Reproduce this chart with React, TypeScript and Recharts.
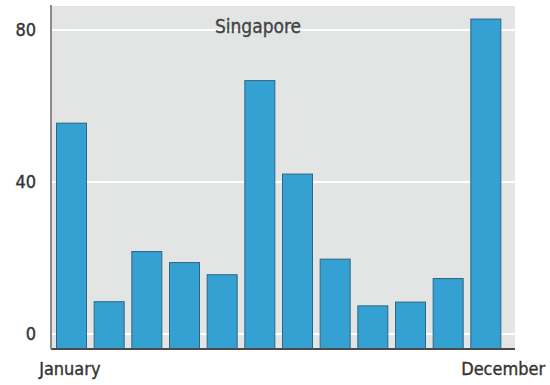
import React from "react";
import { Bar, BarChart, CartesianGrid, XAxis, YAxis } from "recharts";

const months = [
  "January", "February", "March", "April", "May", "June",
  "July", "August", "September", "October", "November", "December",
];
const rainfall = [55.5, 8.5, 21.7, 18.8, 15.6, 66.7, 42.1, 19.7, 7.4, 8.4, 14.6, 82.9];
const yTicks = [0, 40, 80];
const title = "Singapore";

const FONT = "'DejaVu Sans Condensed', 'Liberation Sans Narrow', sans-serif";

const data = months.map((m, i) => ({ month: m, value: rainfall[i] }));

// bars run down to the bottom of the plot, below the zero line
const BarShape = (props: any) => {
  const { x, y, width, height, background } = props;
  const bottom = background ? background.y + background.height : y + height;
  return (
    <rect
      x={x + 0.5}
      y={y}
      width={width - 1}
      height={bottom - y}
      fill="#35a0d2"
      stroke="#2d6684"
      strokeWidth={1}
    />
  );
};

const MonthTick = (props: any) => {
  const { x, y, payload, index } = props;
  if (index !== 0 && index !== months.length - 1) return <g />;
  const dx = index === 0 ? -2 : 17;
  return (
    <text
      x={x + dx}
      y={y}
      dy="0.71em"
      textAnchor="middle"
      fill="#333"
      stroke="#333"
      strokeWidth={0.35}
      fontSize={18}
      fontFamily={FONT}
    >
      {payload.value}
    </text>
  );
};

const App = () => {
  return (
    <div style={{ position: "absolute", left: 0, top: 0 }}>
      <BarChart
        width={550}
        height={385}
        data={data}
        margin={{ top: 5, right: 35, bottom: 0, left: 0 }}
      >
        <CartesianGrid
          vertical={false}
          stroke="#ffffff"
          strokeWidth={2}
          fill="#e3e5e5"
          fillOpacity={1}
        />
        <XAxis
          dataKey="month"
          height={36}
          interval={0}
          padding={{ left: 2, right: 10 }}
          tickLine={false}
          tickSize={0}
          tickMargin={13}
          axisLine={{ stroke: "#4a4a4a", strokeWidth: 2 }}
          tick={<MonthTick />}
        />
        <YAxis
          width={51}
          domain={[-3.95, 86.6]}
          ticks={yTicks}
          allowDataOverflow
          tickLine={false}
          tickSize={0}
          tickMargin={15}
          axisLine={{ stroke: "#8a8a8a", strokeWidth: 2 }}
          tick={{ fill: "#333", stroke: "#333", strokeWidth: 0.35, fontSize: 18, fontFamily: FONT }}
        />
        <Bar dataKey="value" barSize={31} shape={<BarShape />} isAnimationActive={false} />
        <text
          x={258}
          y={33}
          textAnchor="middle"
          fill="#444"
          stroke="#444"
          strokeWidth={0.35}
          fontSize={19}
          fontFamily={FONT}
        >
          {title}
        </text>
      </BarChart>
    </div>
  );
};

export default App;
